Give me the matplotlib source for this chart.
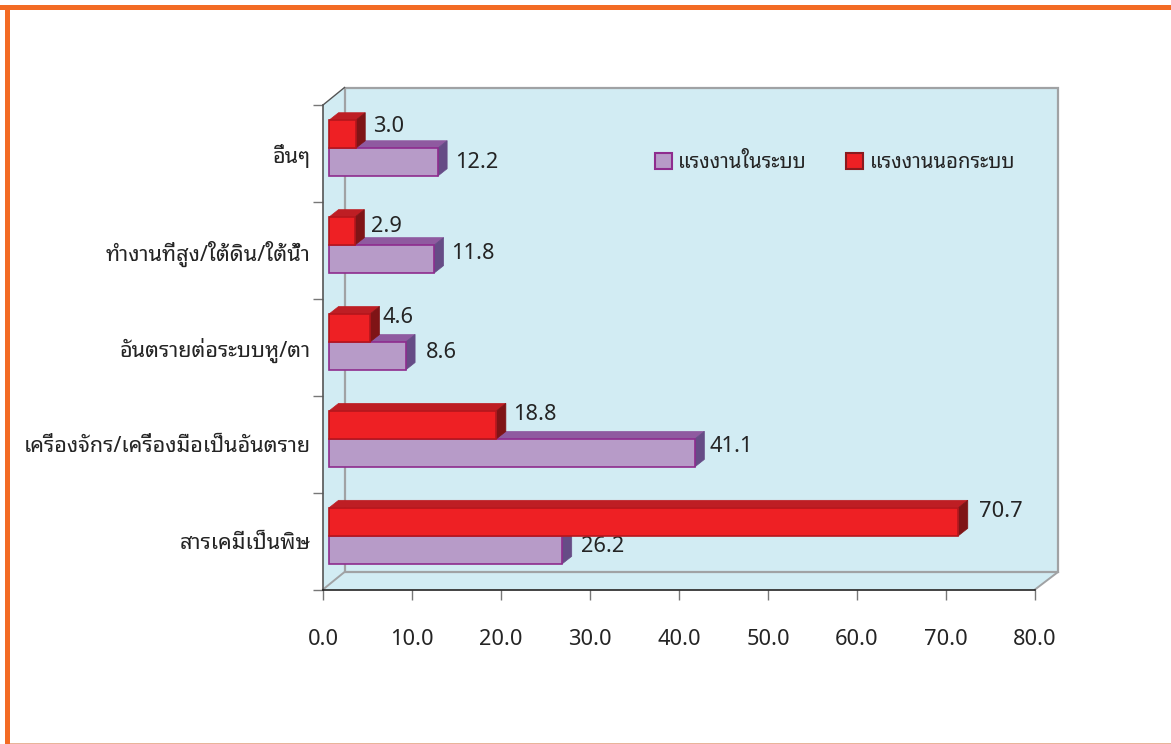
import matplotlib
matplotlib.use('Agg')
import matplotlib.pyplot as plt
from matplotlib.patches import Polygon, Patch, Rectangle

# ข้อมูล
categories = ['สารเคมีเป็นพิษ', 'เครื่องจักร/เครื่องมือเป็นอันตราย', 'อันตรายต่อระบบหู/ตา',
              'ทำงานที่สูง/ใต้ดิน/ใต้น้ำ', 'อื่นๆ']
formal = [26.2, 41.1, 8.6, 11.8, 12.2]
informal = [70.7, 18.8, 4.6, 2.9, 3.0]
x_ticks = [0, 10, 20, 30, 40, 50, 60, 70, 80]

# ตำแหน่งป้ายตัวเลข (pixel จากปลายแท่ง)
formal_off = [(40, 3), (36, 6), (36, 4), (39, 6), (39, 0)]
informal_off = [(43, 10), (38, 10), (28, 11), (32, 5), (33, 8)]

thai_font = ['Noto Sans Thai Looped', 'Noto Sans', 'DejaVu Sans']
num_font = ['Noto Sans', 'DejaVu Sans']
plt.rcParams['font.family'] = thai_font
text_color = '#242424'
wall = '#d2ecf3'
grey = '#a0a2a4'
orange = '#f36b24'

W, H = 1171, 744
fig = plt.figure(figsize=(W / 100, H / 100), dpi=100)
ax = fig.add_axes([323 / W, 1 - 589.5 / H, (1035 - 323) / W, (589.5 - 105) / H])
ax.set_xlim(0, 80)
ax.set_ylim(0, 5)
ax.patch.set_visible(False)

# กรอบสีส้ม
fig.add_artist(Rectangle((0, 1 - 10 / H), 1, 5 / H, transform=fig.transFigure, fc=orange, ec='none'))
fig.add_artist(Rectangle((5 / W, 0), 5 / W, 1 - 5 / H, transform=fig.transFigure, fc=orange, ec='none'))
fig.add_artist(Rectangle((10 / W, 0), 1, 1.5 / H, transform=fig.transFigure, fc='#e8b49a', ec='none'))

# ผนังกราฟ 3 มิติ
wx, wy = 21.5 / 8.9, 17.5 / 96.9
wx2 = 23 / 8.9
ax.add_patch(Polygon([(0, 0), (wx, wy), (80 + wx2, wy), (80, 0)], fc=wall, ec='none', clip_on=False, zorder=0))
ax.add_patch(Polygon([(0, 0), (wx, wy), (wx, 5 + wy), (0, 5)], fc=wall, ec='none', clip_on=False, zorder=0))
ax.add_patch(Rectangle((wx, wy), 80 + wx2 - wx, 5, fc=wall, ec=grey, lw=1.6, clip_on=False, zorder=0.5))
ax.plot([0, wx], [0, wy], color=grey, lw=1.4, clip_on=False, zorder=0.6)
ax.plot([0, wx], [5, 5 + wy], color='#555555', lw=1.0, clip_on=False, zorder=0.6)
ax.plot([80, 80 + wx2], [0, wy], color=grey, lw=1.4, clip_on=False, zorder=0.6)

# แท่งกราฟ
inset = 0.68
bar_h = 0.289
dx, dy = 9.5 / 8.9, 7.5 / 96.9


def bar3d(v, y, front, edge, top, side, z):
    ax.barh(y, v, height=bar_h, left=inset, align='edge', color=front, edgecolor=edge, linewidth=1.2, zorder=z + 0.2)
    x1 = inset + v
    ax.add_patch(Polygon([(inset, y + bar_h), (inset + dx, y + bar_h + dy), (x1 + dx, y + bar_h + dy), (x1, y + bar_h)],
                         fc=top, ec=top, lw=0.5, zorder=z))
    ax.add_patch(Polygon([(x1, y), (x1 + dx, y + dy), (x1 + dx, y + bar_h + dy), (x1, y + bar_h)],
                         fc=side, ec=side, lw=0.5, zorder=z))


for i in range(len(categories)):
    y0 = i + 0.265
    bar3d(formal[i], y0, '#b79bc8', '#8e2c8e', '#8f5aa0', '#664c86', 2)
    bar3d(informal[i], y0 + bar_h, '#ee2024', '#b5161c', '#be1e24', '#7f1416', 4)
    for v, y, off in [(formal[i], y0, formal_off[i]), (informal[i], y0 + bar_h, informal_off[i])]:
        ax.annotate(f'{v:.1f}', (inset + v, y + bar_h / 2), xytext=off, textcoords='offset pixels',
                    ha='center', va='center', fontsize=15.7, color=text_color, family=num_font, zorder=3)

# แกน
for s in ['top', 'right']:
    ax.spines[s].set_visible(False)
ax.spines['left'].set_color('#555555')
ax.spines['left'].set_linewidth(1.2)
ax.spines['bottom'].set_color('#222222')
ax.spines['bottom'].set_linewidth(1.2)
ax.set_xticks(x_ticks)
ax.set_xticklabels([f'{t:.1f}' for t in x_ticks], fontsize=15.7, color=text_color, family=num_font)
ax.tick_params(axis='x', length=7.2, width=1, color='#777777', pad=21)
ax.set_yticks(range(6))
ax.set_yticklabels([])
ax.tick_params(axis='y', which='major', length=7.5, width=1, color='#777777')
ax.set_yticks([i + 0.5 for i in range(5)], minor=True)
ax.set_yticklabels(categories, minor=True, fontsize=15.6, fontweight='semibold', color=text_color)
ax.tick_params(axis='y', which='minor', length=0, pad=9)

# คำอธิบาย
handles = [Patch(fc='#b79bc8', ec='#8e2c8e', lw=1.5), Patch(fc='#ee2024', ec='#8a1a1e', lw=1.5)]
ax.legend(handles, ['แรงงานในระบบ', 'แรงงานนอกระบบ'], ncol=2, frameon=False, fontsize=14.6,
          loc='center left', bbox_to_anchor=((655 - 323) / 712, (589.5 - 163) / 484.5),
          borderpad=0, borderaxespad=0, handlelength=0.82, handleheight=0.82, handletextpad=0.32,
          columnspacing=1.95, labelcolor=text_color)

fig.savefig('out.png', dpi=100)
